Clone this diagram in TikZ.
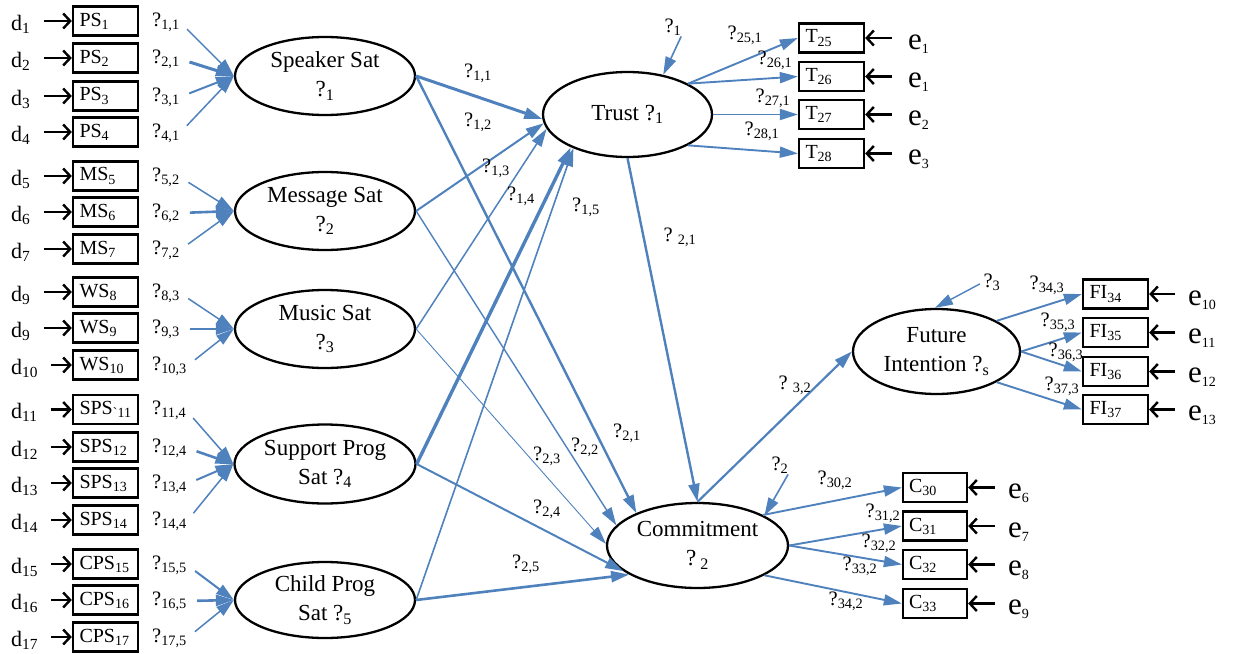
\documentclass[tikz,border=0pt]{standalone}
\usepackage{fontspec}
\setmainfont{Liberation Serif}
\usetikzlibrary{shapes.geometric,arrows.meta,calc}
\definecolor{bl}{RGB}{79,129,189}
\newcommand\q[1]{?\textsubscript{#1}}
\newcommand\esub[1]{\raisebox{-4pt}{\fontsize{14}{14}\selectfont #1}}
\tikzset{
  ind/.style={draw, line width=2.3pt, minimum width=65pt, minimum height=29pt, inner sep=0pt,
    text width=52pt, align=left, font=\fontsize{20}{24}\selectfont},
  lat/.style={ellipse, draw, line width=2.3pt, inner sep=0pt, align=center,
    font=\fontsize{23}{29}\selectfont},
  lab/.style={inner sep=0pt, font=\fontsize{20.5}{24}\selectfont},
  dlab/.style={inner sep=0pt, anchor=base west, font=\fontsize{22}{24}\selectfont},
  elab/.style={inner sep=0pt, anchor=base west, font=\fontsize{31}{31}\selectfont},
  barr/.style={draw=bl, line width=1.9pt, -{Triangle[length=18pt,width=11pt]}},
  karr/.style={draw=black, line width=2.4pt, -{Straight Barb[length=7pt,width=15pt]}},
}
\begin{document}
\begin{tikzpicture}[x=1pt,y=-1pt]
\useasboundingbox (0,0) rectangle (1236,653);
% latent variables
\node[lat, minimum width=180pt, minimum height=78pt] (S1) at (325,76) {Speaker Sat\\?\textsubscript{1}};
\node[lat, minimum width=180pt, minimum height=78pt] (S2) at (325,211) {Message Sat\\?\textsubscript{2}};
\node[lat, minimum width=180pt, minimum height=78pt] (S3) at (325,329) {Music Sat\\?\textsubscript{3}};
\node[lat, minimum width=181pt, minimum height=79pt] (S4) at (325,464) {Support Prog\\Sat ?\textsubscript{4}};
\node[lat, minimum width=180pt, minimum height=76pt] (S5) at (325,600) {Child Prog\\Sat ?\textsubscript{5}};
\node[lat, minimum width=169pt, minimum height=85pt] (T) at (627.5,114.5) {Trust ?\textsubscript{1}};
\node[lat, minimum width=181pt, minimum height=85pt] (C) at (697.5,545.5) {Commitment\\?\,\textsubscript{2}};
\node[lat, minimum width=167pt, minimum height=85pt] (F) at (936.5,351.5) {Future\\Intention ?\textsubscript{s}};

% left indicators
\foreach \n/\y/\t/\d/\l/\lw/\tg in {
  PS1/21/{PS\textsubscript{1}}/{d\textsubscript{1}}/{\q{1,1}}/1.4/S1,
  PS2/58/{PS\textsubscript{2}}/{d\textsubscript{2}}/{\q{2,1}}/3/S1,
  PS3/96/{PS\textsubscript{3}}/{d\textsubscript{3}}/{\q{3,1}}/2/S1,
  PS4/132/{PS\textsubscript{4}}/{d\textsubscript{4}}/{\q{4,1}}/1.5/S1,
  MS5/176/{MS\textsubscript{5}}/{d\textsubscript{5}}/{\q{5,2}}/1.5/S2,
  MS6/212/{MS\textsubscript{6}}/{d\textsubscript{6}}/{\q{6,2}}/2.6/S2,
  MS7/249/{MS\textsubscript{7}}/{d\textsubscript{7}}/{\q{7,2}}/1.5/S2,
  WS8/292/{WS\textsubscript{8}}/{d\textsubscript{9}}/{\q{8,3}}/1.5/S3,
  WS9/328/{WS\textsubscript{9}}/{d\textsubscript{9}}/{\q{9,3}}/2.6/S3,
  WS10/365/{WS\textsubscript{10}}/{d\textsubscript{10}}/{\q{10,3}}/1.5/S3,
  SPS11/409.5/{SPS\textsubscript{\textasciigrave 11}}/{d\textsubscript{11}}/{\q{11,4}}/1.5/S4,
  SPS12/447/{SPS\textsubscript{12}}/{d\textsubscript{12}}/{\q{12,4}}/2.6/S4,
  SPS13/483/{SPS\textsubscript{13}}/{d\textsubscript{13}}/{\q{13,4}}/2/S4,
  SPS14/520/{SPS\textsubscript{14}}/{d\textsubscript{14}}/{\q{14,4}}/1.5/S4,
  CPS15/564/{CPS\textsubscript{15}}/{d\textsubscript{15}}/{\q{15,5}}/2/S5,
  CPS16/600/{CPS\textsubscript{16}}/{d\textsubscript{16}}/{\q{16,5}}/2.6/S5,
  CPS17/637/{CPS\textsubscript{17}}/{d\textsubscript{17}}/{\q{17,5}}/1.5/S5}{
  \node[ind] (\n) at (105.5,\y) {\t};
  \node[dlab] (d\n) at (11,\y+9) {\d};
  \node[lab, anchor=west] (l\n) at (152,\y+1) {\l};
  \draw[karr, shorten <=13pt] (d\n.east |- \n.west) -- (\n.west);
  \draw[barr, line width=\lw pt, shorten <=10pt] (l\n.east) -- (\tg.west);
}

% right indicators: Trust
\foreach \n/\y/\t/\e in {T25/38/25/1, T26/76.5/26/1, T27/114.5/27/2, T28/153.5/28/3}{
  \node[ind] (\n) at (831.5,\y) {T\textsubscript{\t}};
  \node[elab] (e\n) at (908,\y+11) {e\esub{\e}};
  \draw[karr, shorten <=16pt] (e\n.west |- \n.east) -- (\n.east);
}
% Future intention
\foreach \n/\y/\t/\e in {FI34/294/34/10, FI35/332.5/35/11, FI36/371.5/36/12, FI37/409.5/37/13}{
  \node[ind] (\n) at (1115.5,\y) {FI\textsubscript{\t}};
  \node[elab] (e\n) at (1188,\y+11) {e\esub{\e}};
  \draw[karr, shorten <=13pt] (e\n.west |- \n.east) -- (\n.east);
}
% Commitment
\foreach \n/\y/\t/\e in {C30/487.5/30/6, C31/526/31/7, C32/564.5/32/8, C33/603.5/33/9}{
  \node[ind, minimum width=64pt] (\n) at (935,\y) {C\textsubscript{\t}};
  \node[elab] (e\n) at (1008,\y+11) {e\esub{\e}};
  \draw[karr, shorten <=13pt] (e\n.west |- \n.east) -- (\n.east);
}

% structural paths
\draw[barr, line width=3pt] (S1.east) -- (T.183);
\draw[barr, line width=2.4pt] (S1.east) -- (C.152);
\draw[barr, line width=2pt] (S2.east) -- (T.186);
\draw[barr, line width=1.4pt] (S2.east) -- (C.166);
\draw[barr, line width=1.5pt] (S3.east) -- (T.190);
\draw[barr, line width=0.9pt] (S3.east) -- (C.179);
\draw[barr, line width=3.4pt] (S4.east) -- (T.210);
\draw[barr, line width=2pt] (S4.east) -- (C.199);
\draw[barr, line width=1.6pt] (S5.east) -- (T.212);
\draw[barr, line width=2.6pt] (S5.east) -- (C.203);
\draw[barr, line width=2.4pt] (T.south) -- (C.north);
\draw[barr, line width=2.2pt] (C.north) -- (F.west);

% measurement paths
\draw[barr] (T.27) -- (T25.west);
\draw[barr] (T.27) -- (T26.west);
\draw[barr] (T.east) -- (T27.west);
\draw[barr] (T.333) -- (T28.west);
\draw[barr] (F.27) -- (FI34.west);
\draw[barr] (F.east) -- (FI35.west);
\draw[barr] (F.east) -- (FI36.west);
\draw[barr] (F.333) -- (FI37.west);
\draw[barr] (C.25) -- (C30.west);
\draw[barr] (C.east) -- (C31.west);
\draw[barr] (C.east) -- (C32.west);
\draw[barr] (C.336) -- (C33.west);

% disturbances
\node[lab] (z1) at (673,27) {\q{1}};
\node[lab] (z2) at (780,465) {\q{2}};
\node[lab] (z3) at (992,282) {\q{3}};
\draw[barr, line width=1.6pt, shorten <=1pt] (z1.south east) -- (T.48);
\draw[barr, line width=1.6pt, shorten <=1pt] (z2.south east) -- (C.24);
\draw[barr, line width=1.4pt, shorten <=4pt] (z3.west) -- (F.92);

% path labels
\node[lab] (g11) at (478,73) {\q{1,1}};
\node[lab] (g12) at (478,122) {\q{1,2}};
\node[lab] (g13) at (496,168) {\q{1,3}};
\node[lab] (g14) at (521,196) {\q{1,4}};
\node[lab] (g15) at (586,207) {\q{1,5}};
\node[lab] (b21) at (680,237) {?\ \textsubscript{2,1}};
\node[lab] (b32) at (795,385) {?\ \textsubscript{3,2}};
\node[lab] (g21) at (627,433) {\q{2,1}};
\node[lab] (g22) at (585,447) {\q{2,2}};
\node[lab] (g23) at (547,456) {\q{2,3}};
\node[lab] (g24) at (547,509) {\q{2,4}};
\node[lab] (g25) at (526,564) {\q{2,5}};
\node[lab] (l251) at (745,35) {\q{25,1}};
\node[lab] (l261) at (775,60) {\q{26,1}};
\node[lab] (l271) at (773,98) {\q{27,1}};
\node[lab] (l281) at (762,131) {\q{28,1}};
\node[lab] (l343) at (1047,285) {\q{34,3}};
\node[lab] (l353) at (1058,322) {\q{35,3}};
\node[lab] (l363) at (1066,352) {\q{36,3}};
\node[lab] (l373) at (1062,386) {\q{37,3}};
\node[lab] (l302) at (835,480) {\q{30,2}};
\node[lab] (l312) at (883,513) {\q{31,2}};
\node[lab] (l322) at (879,543) {\q{32,2}};
\node[lab] (l332) at (860,566) {\q{33,2}};
\node[lab] (l342) at (846,601) {\q{34,2}};
\end{tikzpicture}
\end{document}
